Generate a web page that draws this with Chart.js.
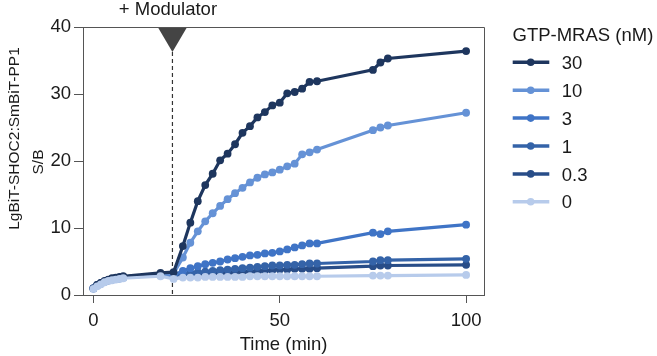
<!DOCTYPE html>
<html>
<head>
<meta charset="utf-8">
<script src="https://cdn.jsdelivr.net/npm/chart.js@4/dist/chart.umd.min.js"></script>
<style>
  html, body { margin: 0; padding: 0; background: #fff; }
  #wrap { width: 657px; height: 356px; }
</style>
</head>
<body>
<div id="wrap"><canvas id="myChart" width="657" height="356"></canvas></div>
<script>
// time points (min)
const times = [0, 1, 2, 3, 4, 5, 6, 7, 8, 18, 21.5,
  24, 26, 28, 30, 32, 34, 36, 38, 40, 42, 44, 46, 48, 50, 52, 54, 56, 58, 60,
  75, 77, 79, 100];

// GTP-MRAS concentrations (nM), legend order
const concLabels = ['30', '10', '3', '1', '0.3', '0'];

// S/B per concentration
const sb30 = [1.0, 1.5, 1.8, 2.1, 2.3, 2.5, 2.6, 2.7, 2.8, 3.3, 3.4,
  7.3, 10.8, 14.0, 16.4, 18.1, 20.1, 21.1, 22.5, 24.2, 25.2, 26.5, 27.3, 28.3, 28.7, 30.1, 30.3, 30.8, 31.8, 31.9,
  33.6, 34.7, 35.3, 36.4];
const sb10 = [1.0, 1.4, 1.7, 2.0, 2.2, 2.3, 2.4, 2.5, 2.6, 3.0, 3.2,
  5.6, 7.8, 9.5, 11.0, 12.2, 13.3, 14.3, 15.2, 16.0, 16.8, 17.5, 18.0, 18.3, 18.7, 19.2, 19.6, 21.0, 21.3, 21.7,
  24.6, 25.0, 25.3, 27.2];
const sb3 = [1.0, 1.4, 1.7, 2.0, 2.2, 2.3, 2.4, 2.5, 2.6, 3.0, 3.0,
  3.6, 4.0, 4.3, 4.6, 4.8, 5.0, 5.3, 5.5, 5.7, 5.9, 6.0, 6.2, 6.3, 6.5, 6.8, 7.1, 7.4, 7.7, 7.7,
  9.3, 9.1, 9.5, 10.5];
const sb1 = [1.0, 1.4, 1.7, 2.0, 2.2, 2.3, 2.4, 2.5, 2.6, 3.0, 3.0,
  3.2, 3.3, 3.4, 3.5, 3.6, 3.7, 3.8, 3.9, 4.0, 4.1, 4.2, 4.3, 4.4, 4.4, 4.5, 4.5, 4.6, 4.7, 4.7,
  5.0, 5.2, 5.2, 5.4];
const sb03 = [1.0, 1.5, 1.8, 2.0, 2.2, 2.4, 2.5, 2.6, 2.7, 3.1, 3.0,
  3.0, 3.0, 3.1, 3.1, 3.2, 3.3, 3.3, 3.4, 3.5, 3.5, 3.6, 3.6, 3.7, 3.8, 3.8, 3.9, 3.9, 3.9, 4.0,
  4.3, 4.4, 4.4, 4.5];
const sb0 = [0.9, 1.3, 1.6, 1.9, 2.1, 2.2, 2.3, 2.4, 2.5, 2.8, 2.4,
  2.6, 2.6, 2.6, 2.7, 2.7, 2.7, 2.7, 2.7, 2.7, 2.8, 2.8, 2.8, 2.8, 2.8, 2.8, 2.8, 2.8, 2.8, 2.8,
  2.9, 2.9, 2.9, 3.0];

const xTicks = [0, 50, 100];
const yTicks = [0, 10, 20, 30, 40];
const modulatorTime = 21.2;

const seriesValues = [sb30, sb10, sb3, sb1, sb03, sb0];
const seriesColors = ['#1e365e', '#6592d6', '#3f74c6', '#3463a8', '#284d88', '#b7cbeb'];
const drawOrder = [1, 2, 3, 4, 5, 0]; // 0 nM drawn on top

const FONT_FAMILY = '"Liberation Sans", Arial, Helvetica, sans-serif';
const TEXT = '#1a1a1a';
const AXIS = '#555555';

// modulator marker: dashed line + triangle + label
const modulatorPlugin = {
  id: 'modulator',
  beforeDatasetsDraw(chart) {
    const ctx = chart.ctx;
    const x = chart.scales.x.getPixelForValue(modulatorTime);
    const area = chart.chartArea;
    ctx.save();
    ctx.strokeStyle = '#333';
    ctx.lineWidth = 1.2;
    ctx.setLineDash([4, 3]);
    ctx.beginPath();
    ctx.moveTo(x, area.top + 25);
    ctx.lineTo(x, area.bottom);
    ctx.stroke();
    ctx.restore();
  },
  afterDraw(chart) {
    const ctx = chart.ctx;
    const x = chart.scales.x.getPixelForValue(modulatorTime);
    const top = chart.chartArea.top;
    ctx.save();
    ctx.fillStyle = '#444';
    ctx.beginPath();
    ctx.moveTo(x - 14.7, top);
    ctx.lineTo(x + 14.7, top);
    ctx.lineTo(x, top + 25);
    ctx.closePath();
    ctx.fill();
    ctx.fillStyle = TEXT;
    ctx.font = '18.5px ' + FONT_FAMILY;
    ctx.textAlign = 'center';
    ctx.textBaseline = 'alphabetic';
    ctx.fillText('+ Modulator', x - 4.5, 15);
    ctx.restore();
  }
};

// frame on top and right
const framePlugin = {
  id: 'frame',
  afterDraw(chart) {
    const ctx = chart.ctx;
    const a = chart.chartArea;
    ctx.save();
    ctx.strokeStyle = AXIS;
    ctx.lineWidth = 1;
    ctx.beginPath();
    ctx.moveTo(a.left, a.top + 0.5);
    ctx.lineTo(a.right + 0.5, a.top + 0.5);
    ctx.lineTo(a.right + 0.5, a.bottom);
    ctx.stroke();
    ctx.restore();
  }
};

// two-line y title
const yTitlePlugin = {
  id: 'yTitle',
  afterDraw(chart) {
    const ctx = chart.ctx;
    ctx.save();
    ctx.fillStyle = TEXT;
    ctx.font = '15.5px ' + FONT_FAMILY;
    ctx.textAlign = 'center';
    ctx.textBaseline = 'alphabetic';
    ctx.translate(18.5, 138.5);
    ctx.rotate(-Math.PI / 2);
    ctx.fillText('LgBiT-SHOC2:SmBiT-PP1', 0, 0);
    ctx.restore();
    ctx.save();
    ctx.fillStyle = TEXT;
    ctx.font = '15.5px ' + FONT_FAMILY;
    ctx.textAlign = 'center';
    ctx.textBaseline = 'alphabetic';
    ctx.translate(43, 162);
    ctx.rotate(-Math.PI / 2);
    ctx.fillText('S/B', 0, 0);
    ctx.restore();
  }
};

// legend with line + dot samples
const sideLegendPlugin = {
  id: 'sideLegend',
  afterDraw(chart) {
    const ctx = chart.ctx;
    ctx.save();
    ctx.font = '18.5px ' + FONT_FAMILY;
    ctx.fillStyle = TEXT;
    ctx.textAlign = 'left';
    ctx.textBaseline = 'alphabetic';
    ctx.fillText('GTP-MRAS (nM)', 512.5, 40.5);
    chart.data.datasets.forEach((ds, i) => {
      const y = 62.3 + i * 27.9;
      ctx.strokeStyle = ds.borderColor;
      ctx.lineWidth = 3.5;
      ctx.beginPath();
      ctx.moveTo(512.7, y);
      ctx.lineTo(549.3, y);
      ctx.stroke();
      ctx.fillStyle = ds.borderColor;
      ctx.beginPath();
      ctx.arc(530.7, y, 3.8, 0, Math.PI * 2);
      ctx.fill();
      ctx.fillStyle = TEXT;
      ctx.fillText(ds.label, 561.7, y + 6.6);
    });
    ctx.restore();
  }
};

const datasets = concLabels.map((label, i) => ({
  label: label,
  data: times.map((t, j) => ({ x: t, y: seriesValues[i][j] })),
  borderColor: seriesColors[i],
  backgroundColor: seriesColors[i],
  pointBackgroundColor: seriesColors[i],
  pointBorderWidth: 0,
  pointRadius: 3.9,
  borderWidth: 3.2,
  tension: 0,
  order: drawOrder[i]
}));

const ctx = document.getElementById('myChart').getContext('2d');
new Chart(ctx, {
  type: 'line',
  data: { datasets: datasets },
  options: {
    responsive: false,
    animation: false,
    devicePixelRatio: 1,
    layout: { padding: { top: 27, right: 173, bottom: 0, left: 0 } },
    plugins: {
      legend: { display: false },
      tooltip: { enabled: false }
    },
    scales: {
      x: {
        type: 'linear',
        min: -2.8,
        max: 104.8,
        afterFit: (s) => { s.height = 61; },
        afterBuildTicks: (s) => { s.ticks = xTicks.map(v => ({ value: v })); },
        grid: { display: true, drawOnChartArea: false, drawTicks: true, tickLength: 8, color: AXIS, tickColor: AXIS },
        border: { display: true, color: AXIS, width: 1 },
        ticks: { color: TEXT, padding: 7, font: { family: FONT_FAMILY, size: 18.5 }, maxRotation: 0 },
        title: { display: true, text: 'Time (min)', color: TEXT, padding: { top: 0, bottom: 0 }, font: { family: FONT_FAMILY, size: 18.5 } }
      },
      y: {
        min: 0,
        max: 40,
        afterFit: (s) => { s.width = 83; },
        afterBuildTicks: (s) => { s.ticks = yTicks.map(v => ({ value: v })); },
        grid: { display: true, drawOnChartArea: false, drawTicks: true, tickLength: 9, color: AXIS, tickColor: AXIS },
        border: { display: true, color: AXIS, width: 1 },
        ticks: { color: TEXT, padding: 3, font: { family: FONT_FAMILY, size: 18.5 } }
      }
    }
  },
  plugins: [modulatorPlugin, framePlugin, yTitlePlugin, sideLegendPlugin]
});
</script>
</body>
</html>
